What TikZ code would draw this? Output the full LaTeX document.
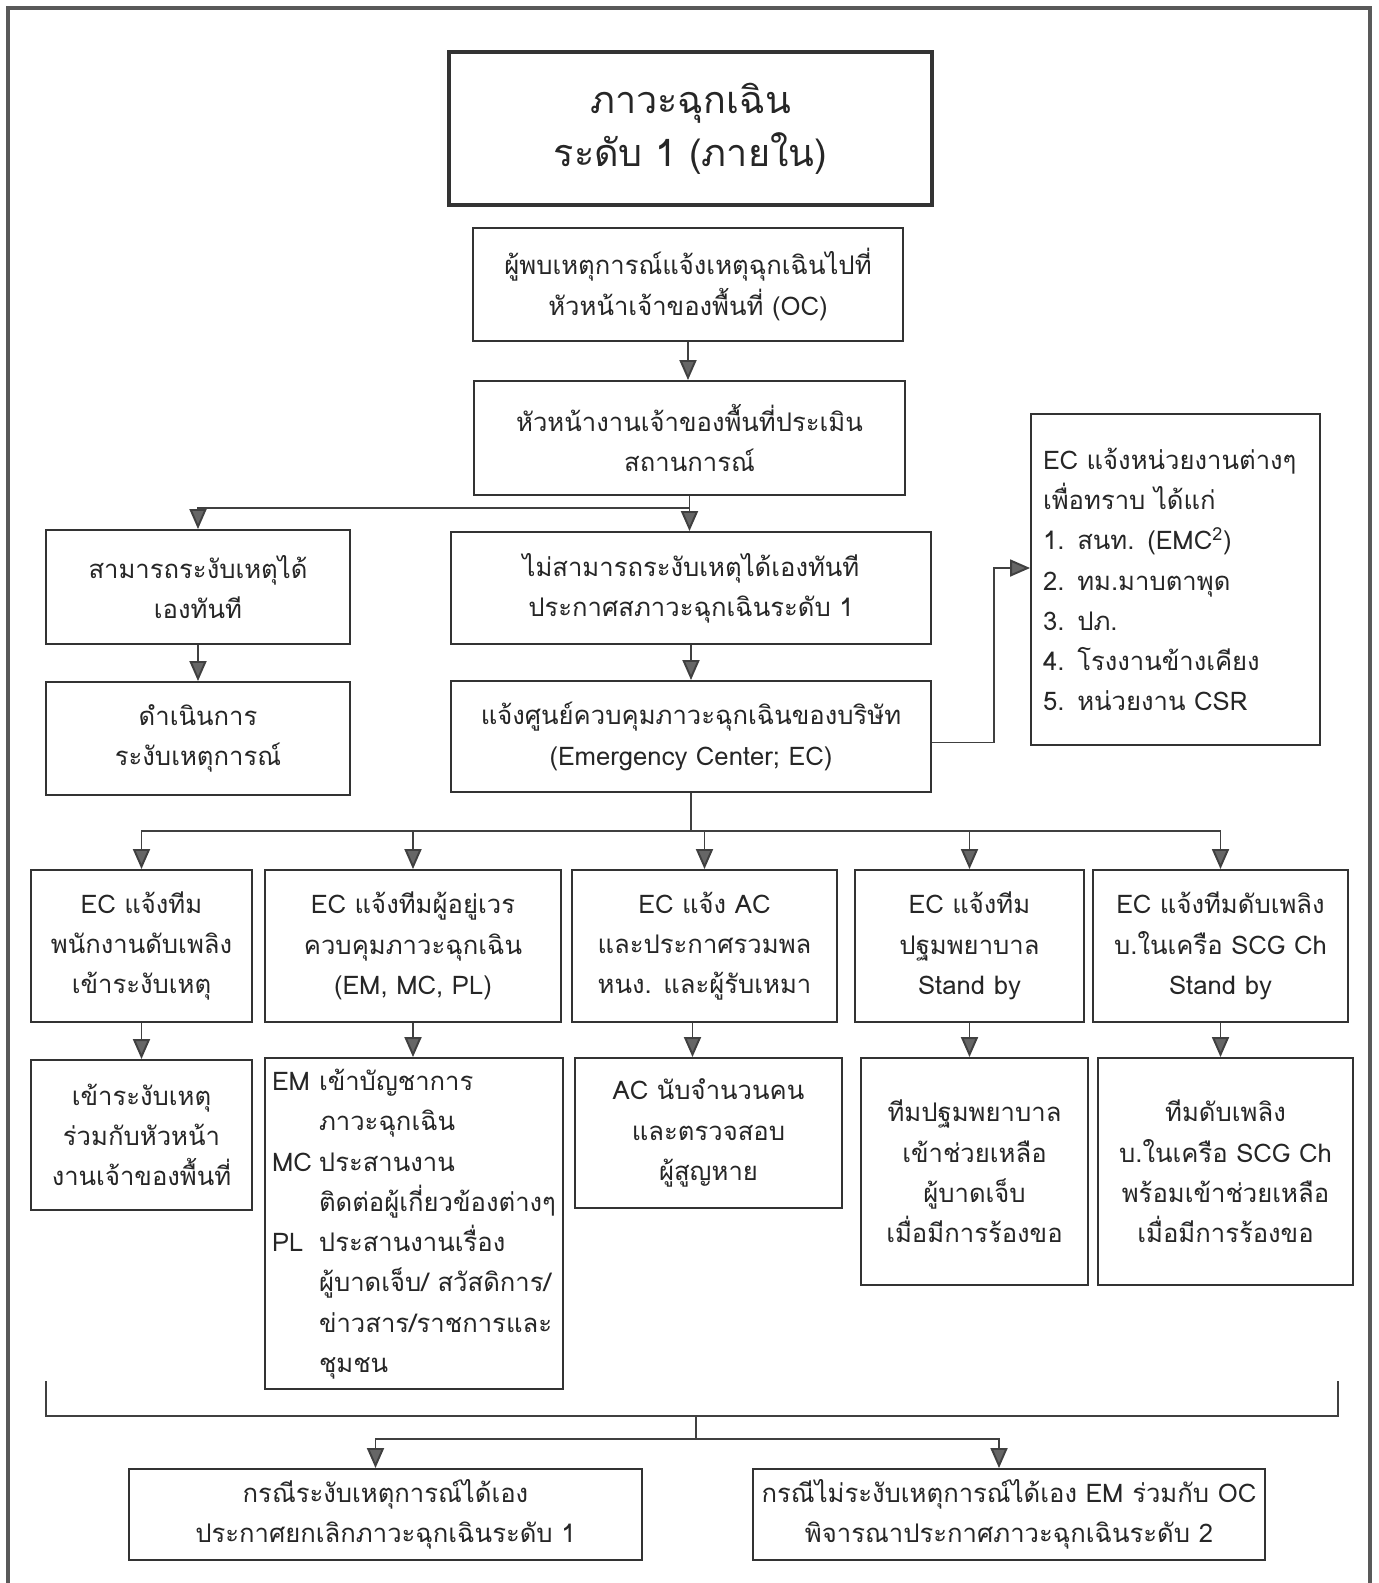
\documentclass[tikz,border=0pt]{standalone}
\usepackage{fontspec}
\setmainfont[Script=Thai]{Loma}
\usetikzlibrary{arrows.meta}

\begin{document}
\begin{tikzpicture}[x=0.02cm, y=-0.02cm,
    box/.style={draw=black!80, line width=1.1pt, align=center, inner sep=2pt,
        text=black!85, font=\fontsize{14.6}{22.9}\selectfont},
    arr/.style={draw=black!75, line width=1.1pt,
        -{Triangle[length=0.4cm, width=0.34cm, fill=black!60]}},
    link/.style={draw=black!75, line width=1.1pt}]
    \useasboundingbox (0,0) rectangle (1379,1583);

    % Outer frame (open at the bottom)
    \draw[line width=2pt, black!65] (8,1583) -- (8,8) -- (1370,8) -- (1370,1583);

    % Title
    \node[box, line width=2.4pt, minimum width=9.66cm, minimum height=3.06cm,
        font=\fontsize{21.5}{30}\selectfont] (title) at (690.5,128.5)
        {ภาวะฉุกเฉิน\\ระดับ 1 (ภายใน)};

    % Reporting and assessment
    \node[box, minimum width=8.6cm, minimum height=2.26cm] (oc) at (688,284.5)
        {ผู้พบเหตุการณ์แจ้งเหตุฉุกเฉินไปที่\\หัวหน้าเจ้าของพื้นที่ (OC)};
    \node[box, minimum width=8.62cm, minimum height=2.28cm] (assess) at (689.5,438)
        {หัวหน้างานเจ้าของพื้นที่ประเมิน\\สถานการณ์};

    % Two outcomes
    \node[box, minimum width=6.08cm, minimum height=2.28cm] (can) at (198,587)
        {สามารถระงับเหตุได้\\เองทันที};
    \node[box, minimum width=6.08cm, minimum height=2.26cm] (act) at (198,738.5)
        {ดำเนินการ\\ระงับเหตุการณ์};
    \node[box, minimum width=9.6cm, minimum height=2.24cm] (cannot) at (691,588)
        {ไม่สามารถระงับเหตุได้เองทันที\\ประกาศสภาวะฉุกเฉินระดับ 1};
    \node[box, minimum width=9.6cm, minimum height=2.22cm] (ec) at (691,736.5)
        {แจ้งศูนย์ควบคุมภาวะฉุกเฉินของบริษัท\\(Emergency Center; EC)};

    % Outside agencies
    \node[box, align=left, text width=5.3cm, inner sep=0.24cm, minimum height=6.62cm] (list) at (1175.5,579.5)
        {EC แจ้งหน่วยงานต่างๆ\\เพื่อทราบ ได้แก่\\1. สนท. (EMC\textsuperscript{2})\\2. ทม.มาบตาพุด\\3. ปภ.\\4. โรงงานข้างเคียง\\5. หน่วยงาน CSR};

    % Teams notified by EC
    \node[box, minimum width=4.42cm, minimum height=3.04cm] (t1) at (141.5,946)
        {EC แจ้งทีม\\พนักงานดับเพลิง\\เข้าระงับเหตุ};
    \node[box, minimum width=5.92cm, minimum height=3.04cm] (t2) at (413,946)
        {EC แจ้งทีมผู้อยู่เวร\\ควบคุมภาวะฉุกเฉิน\\(EM, MC, PL)};
    \node[box, minimum width=5.3cm, minimum height=3.04cm] (t3) at (704.5,946)
        {EC แจ้ง AC\\และประกาศรวมพล\\หนง. และผู้รับเหมา};
    \node[box, minimum width=4.58cm, minimum height=3.04cm] (t4) at (969.5,946)
        {EC แจ้งทีม\\ปฐมพยาบาล\\Stand by};
    \node[box, minimum width=5.1cm, minimum height=3.04cm] (t5) at (1220.5,946)
        {EC แจ้งทีมดับเพลิง\\บ.ในเครือ SCG Ch\\Stand by};

    % Actions of each team
    \node[box, minimum width=4.42cm, minimum height=3cm] (a1) at (141.5,1135)
        {เข้าระงับเหตุ\\ร่วมกับหัวหน้า\\งานเจ้าของพื้นที่};
    \node[box, minimum width=5.96cm, minimum height=6.62cm] (a2) at (414,1223.5)
        {\begin{tabular}{@{}p{0.94cm}@{}l@{}}
        EM & เข้าบัญชาการ\\
           & ภาวะฉุกเฉิน\\
        MC & ประสานงาน\\
           & ติดต่อผู้เกี่ยวข้องต่างๆ\\
        PL & ประสานงานเรื่อง\\
           & ผู้บาดเจ็บ/ สวัสดิการ/\\
           & ข่าวสาร/ราชการและ\\
           & ชุมชน
        \end{tabular}};
    \node[box, minimum width=5.34cm, minimum height=3cm] (a3) at (708.5,1133)
        {AC นับจำนวนคน\\และตรวจสอบ\\ผู้สูญหาย};
    \node[box, minimum width=4.54cm, minimum height=4.54cm] (a4) at (974.5,1171.5)
        {ทีมปฐมพยาบาล\\เข้าช่วยเหลือ\\ผู้บาดเจ็บ\\เมื่อมีการร้องขอ};
    \node[box, minimum width=5.1cm, minimum height=4.54cm] (a5) at (1225.5,1171.5)
        {ทีมดับเพลิง\\บ.ในเครือ SCG Ch\\พร้อมเข้าช่วยเหลือ\\เมื่อมีการร้องขอ};

    % Final decisions
    \node[box, minimum width=10.26cm, minimum height=1.82cm] (b1) at (385.5,1514.5)
        {กรณีระงับเหตุการณ์ได้เอง\\ประกาศยกเลิกภาวะฉุกเฉินระดับ 1};
    \node[box, minimum width=10.24cm, minimum height=1.82cm] (b2) at (1009,1514.5)
        {กรณีไม่ระงับเหตุการณ์ได้เอง EM ร่วมกับ OC\\พิจารณาประกาศภาวะฉุกเฉินระดับ 2};

    % Connectors
    \draw[arr] (oc.south) -- (oc.south |- assess.north);
    \draw[arr] (assess.south) -- (assess.south |- cannot.north);
    \draw[arr] (assess.south) -- ++(0,12) -| (can.north);
    \draw[arr] (can.south) -- (act.north);
    \draw[arr] (cannot.south) -- (cannot.south |- ec.north);
    \coordinate (ecbend) at (994,568);
    \draw[arr] ([yshift=-0.12cm]ec.east) -| (ecbend) -- (ecbend -| list.west);

    \coordinate (bus) at (691,831);
    \foreach \n in {t1,t2,t3,t4,t5}
        \draw[arr] (ec.south) |- (bus -| \n.north) -- (\n.north);
    \foreach \n in {1,2,4,5}
        \draw[arr] (t\n.south) -- (t\n.south |- a\n.north);
    \draw[arr] ([xshift=-0.24cm]t3.south) -- ([xshift=-0.24cm]t3.south |- a3.north);

    % Bracket over all teams
    \coordinate (brL) at (46,1381);
    \coordinate (brR) at (1338,1381);
    \coordinate (brmid) at (696,1416);
    \draw[link] (brL) -- (46,1416) -- (1338,1416) -- (brR);
    \draw[arr] (brmid) -- ++(0,23) -| ([xshift=-0.2cm]b1.north);
    \draw[arr] (brmid) -- ++(0,23) -| ([xshift=-0.2cm]b2.north);
\end{tikzpicture}
\end{document}
